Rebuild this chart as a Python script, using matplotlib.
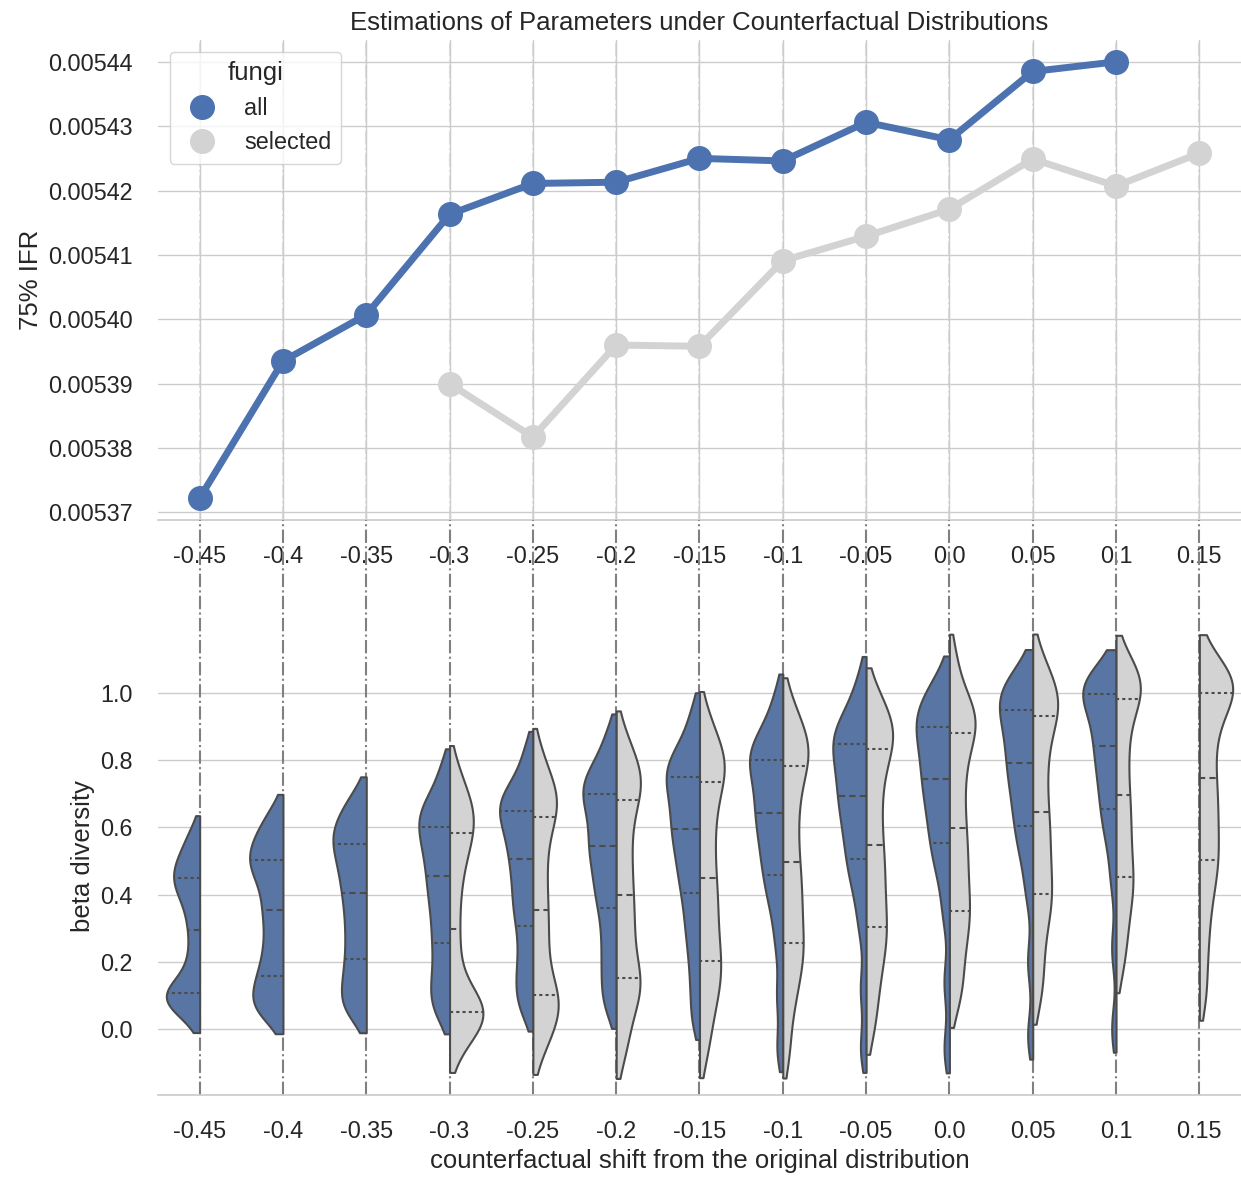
import numpy as np
import matplotlib
matplotlib.use("Agg")
import matplotlib.pyplot as plt
import seaborn as sns
from matplotlib.lines import Line2D
from matplotlib.ticker import FormatStrFormatter, MultipleLocator

shifts = ['-0.45', '-0.4', '-0.35', '-0.3', '-0.25', '-0.2', '-0.15',
          '-0.1', '-0.05', '0.0', '0.05', '0.1', '0.15']

# 75% IFR per shift (nan = not estimated)
ifr_all = [0.0053722, 0.0053935, 0.0054007, 0.0054163, 0.0054211, 0.0054213,
           0.0054250, 0.0054246, 0.0054306, 0.0054279, 0.0054385, 0.0054400, np.nan]
ifr_selected = [np.nan, np.nan, np.nan, 0.0053900, 0.0053817, 0.0053960,
                0.0053958, 0.0054091, 0.0054129, 0.0054171, 0.0054249, 0.0054207, 0.0054258]

# beta diversity samples per shift
beta_all = [
    [0.035, 0.058, 0.078, 0.09, 0.10, 0.109, 0.125, 0.15, 0.19, 0.24, 0.295, 0.34, 0.38, 0.41, 0.43, 0.449, 0.47, 0.49, 0.515, 0.545, 0.59],
    [0.035, 0.058, 0.08, 0.105, 0.13, 0.159, 0.19, 0.23, 0.27, 0.315, 0.354, 0.39, 0.43, 0.46, 0.485, 0.503, 0.525, 0.55, 0.575, 0.605, 0.65],
    [0.04, 0.07, 0.10, 0.135, 0.17, 0.208, 0.25, 0.29, 0.33, 0.37, 0.404, 0.44, 0.47, 0.50, 0.53, 0.552, 0.575, 0.60, 0.625, 0.655, 0.70],
    [0.04, 0.08, 0.12, 0.16, 0.21, 0.257, 0.30, 0.345, 0.385, 0.42, 0.455, 0.49, 0.52, 0.55, 0.58, 0.602, 0.625, 0.65, 0.675, 0.71, 0.78],
    [0.05, 0.10, 0.145, 0.195, 0.25, 0.308, 0.35, 0.39, 0.43, 0.47, 0.505, 0.54, 0.57, 0.60, 0.63, 0.649, 0.67, 0.69, 0.715, 0.755, 0.83],
    [0.06, 0.12, 0.18, 0.24, 0.30, 0.359, 0.40, 0.44, 0.48, 0.515, 0.545, 0.575, 0.61, 0.645, 0.675, 0.699, 0.72, 0.745, 0.77, 0.81, 0.88],
    [0.03, 0.13, 0.22, 0.29, 0.35, 0.406, 0.45, 0.49, 0.53, 0.565, 0.595, 0.625, 0.66, 0.69, 0.72, 0.749, 0.77, 0.79, 0.82, 0.86, 0.94],
    [-0.06, 0.10, 0.25, 0.35, 0.41, 0.458, 0.50, 0.54, 0.58, 0.615, 0.644, 0.675, 0.71, 0.745, 0.775, 0.80, 0.82, 0.84, 0.865, 0.91, 0.99],
    [-0.06, 0.12, 0.30, 0.40, 0.46, 0.505, 0.55, 0.59, 0.63, 0.665, 0.694, 0.725, 0.76, 0.79, 0.82, 0.849, 0.87, 0.89, 0.915, 0.96, 1.04],
    [-0.06, 0.14, 0.34, 0.45, 0.51, 0.555, 0.60, 0.64, 0.68, 0.715, 0.744, 0.775, 0.81, 0.84, 0.87, 0.899, 0.92, 0.94, 0.965, 1.00, 1.04],
    [-0.02, 0.20, 0.40, 0.50, 0.56, 0.604, 0.65, 0.69, 0.73, 0.765, 0.793, 0.825, 0.86, 0.89, 0.92, 0.949, 0.97, 0.99, 1.01, 1.035, 1.06],
    [0.0, 0.24, 0.44, 0.55, 0.61, 0.654, 0.70, 0.74, 0.78, 0.815, 0.843, 0.875, 0.91, 0.94, 0.97, 0.998, 1.01, 1.02, 1.03, 1.045, 1.06],
    None,
]
beta_selected = [
    None, None, None,
    [-0.06, -0.01, 0.02, 0.035, 0.045, 0.052, 0.07, 0.095, 0.14, 0.22, 0.297, 0.38, 0.45, 0.51, 0.55, 0.584, 0.615, 0.645, 0.67, 0.705, 0.775],
    [-0.065, -0.01, 0.03, 0.055, 0.08, 0.102, 0.14, 0.19, 0.25, 0.30, 0.354, 0.41, 0.47, 0.53, 0.59, 0.632, 0.66, 0.69, 0.715, 0.75, 0.825],
    [-0.075, 0.0, 0.06, 0.11, 0.13, 0.151, 0.20, 0.25, 0.30, 0.35, 0.398, 0.455, 0.51, 0.57, 0.63, 0.681, 0.715, 0.745, 0.77, 0.805, 0.875],
    [-0.07, 0.02, 0.08, 0.13, 0.17, 0.203, 0.25, 0.30, 0.35, 0.40, 0.449, 0.51, 0.57, 0.63, 0.685, 0.734, 0.765, 0.795, 0.82, 0.855, 0.93],
    [-0.07, 0.05, 0.12, 0.18, 0.22, 0.255, 0.305, 0.355, 0.40, 0.45, 0.498, 0.56, 0.62, 0.68, 0.735, 0.783, 0.81, 0.84, 0.865, 0.90, 0.97],
    [0.0, 0.09, 0.16, 0.22, 0.265, 0.303, 0.35, 0.40, 0.45, 0.50, 0.548, 0.61, 0.67, 0.73, 0.785, 0.832, 0.86, 0.885, 0.91, 0.945, 1.00],
    [0.08, 0.14, 0.21, 0.27, 0.32, 0.352, 0.40, 0.45, 0.50, 0.55, 0.598, 0.66, 0.72, 0.78, 0.835, 0.881, 0.905, 0.93, 0.955, 0.99, 1.10],
    [0.09, 0.17, 0.25, 0.32, 0.37, 0.402, 0.45, 0.50, 0.55, 0.60, 0.647, 0.71, 0.77, 0.83, 0.885, 0.931, 0.955, 0.98, 1.005, 1.04, 1.10],
    [0.18, 0.26, 0.32, 0.38, 0.42, 0.453, 0.50, 0.55, 0.60, 0.65, 0.698, 0.76, 0.82, 0.88, 0.935, 0.981, 1.00, 1.02, 1.04, 1.065, 1.10],
    [0.10, 0.22, 0.32, 0.40, 0.46, 0.503, 0.55, 0.60, 0.65, 0.70, 0.748, 0.81, 0.87, 0.92, 0.96, 1.00, 1.01, 1.025, 1.04, 1.06, 1.10],
]

blue = '#4C72B0'
gray = 'lightgray'
blue_violin = '#5875A4'
edge = '#4b4b4b'

sns.set_theme(style='whitegrid')
plt.rcParams['font.family'] = ['Liberation Sans', 'DejaVu Sans']
plt.rcParams['text.color'] = '.15'
plt.rcParams['axes.labelcolor'] = '.15'
plt.rcParams['xtick.color'] = '.15'
plt.rcParams['ytick.color'] = '.15'

fig = plt.figure(figsize=(12.41, 11.8), dpi=100)
rect1 = [0.1273, 0.5593, 0.8727, 0.4068]
rect2 = [0.1273, 0.0720, 0.8727, 0.4051]
ax1 = fig.add_axes(rect1)
ax2 = fig.add_axes(rect2)
x = np.arange(len(shifts))

# ---- top: point plot
ax1.plot(x, ifr_all, '-o', color=blue, lw=5, ms=17, zorder=4)
ax1.plot(x, ifr_selected, '-o', color=gray, lw=5, ms=17, zorder=3)
for i in x:
    ax1.axvline(i, color='gray', ls='-.', lw=1.5, alpha=0.25, zorder=0.5)
ax1.set_xlim(-0.5, 12.5)
ax1.set_xticks(x)
ax1.set_xticklabels(shifts)
ax1.yaxis.set_major_locator(MultipleLocator(1e-5))
ax1.yaxis.set_major_formatter(FormatStrFormatter('%.5f'))
ax1.set_ylabel('75% IFR', fontsize=18.5)
ax1.set_title('Estimations of Parameters under Counterfactual Distributions',
              fontsize=18.5, pad=7)
ax1.tick_params(axis='both', labelsize=16.8, pad=12)
handles = [Line2D([], [], marker='o', ls='none', color=blue, ms=17),
           Line2D([], [], marker='o', ls='none', color=gray, ms=17)]
leg = ax1.legend(handles, ['all', 'selected'], title='fungi', loc='upper left',
                 fontsize=16.8, title_fontsize=18.5)


# ---- bottom: split violins
def kde(vals, adjust=0.45, cut=1, n=120):
    vals = np.asarray(vals, dtype=float)
    bw = adjust * vals.std(ddof=1) * len(vals) ** (-0.2)
    grid = np.linspace(vals.min() - cut * bw, vals.max() + cut * bw, n)
    z = (grid[:, None] - vals[None, :]) / bw
    dens = np.exp(-0.5 * z ** 2).sum(axis=1) / (len(vals) * bw * np.sqrt(2 * np.pi))
    return grid, dens


half = 0.4
for i in x:
    halves = []
    for vals, side, color in [(beta_all[i], -1, blue_violin), (beta_selected[i], 1, gray)]:
        if vals is None:
            continue
        grid, dens = kde(vals)
        halves.append((vals, side, color, grid, dens))
    peak = max(h[4].max() for h in halves)
    for vals, side, color, grid, dens in halves:
        w = half * dens / peak
        ax2.fill_betweenx(grid, i, i + side * w, facecolor=color, edgecolor=edge,
                          lw=1.5, zorder=2)
        for q, ls in [(25, (0, (1.5, 1.5))), (50, (0, (3, 2))), (75, (0, (1.5, 1.5)))]:
            yq = np.percentile(vals, q)
            wq = np.interp(yq, grid, w)
            ax2.plot([i, i + side * wq], [yq, yq], color=edge, lw=1.5, ls=ls, zorder=3)

top_reach = (rect1[1] - rect2[1]) / rect2[3]
for i in x:
    ax2.axvline(i, ymin=0, ymax=top_reach, clip_on=False, color='gray', ls='-.',
                lw=1.5, zorder=1)

ax2.set_xlim(-0.5, 12.5)
ax2.set_ylim(-0.196, 1.226)
ax2.set_yticks([0.0, 0.2, 0.4, 0.6, 0.8, 1.0])
ax2.set_xticks(x)
ax2.set_xticklabels(shifts)
ax2.grid(axis='x', visible=False)
ax2.set_xlabel('counterfactual shift from the original distribution', fontsize=18.5)
ax2.set_ylabel('beta diversity', fontsize=18.5)
ax2.tick_params(axis='both', labelsize=16.8, pad=12)

for ax in (ax1, ax2):
    sns.despine(ax=ax, left=True)

fig.savefig('out.png', dpi=100)
